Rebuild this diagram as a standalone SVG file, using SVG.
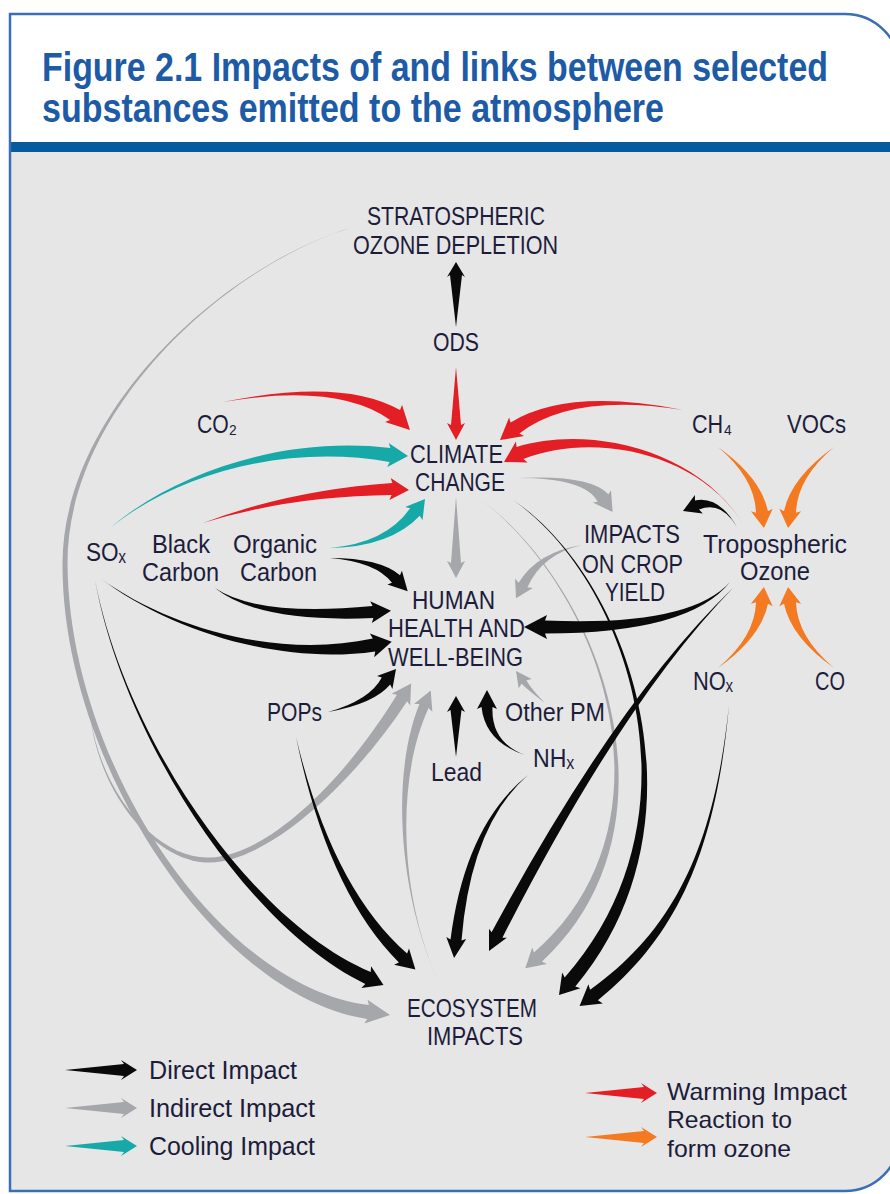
<svg xmlns="http://www.w3.org/2000/svg" width="890" height="1194" viewBox="0 0 890 1194">
<defs>
<style>
.lbl{font-family:"Liberation Sans","DejaVu Sans",Arial,sans-serif;font-size:25px;fill:#1d1d3b}
.leg{font-size:26px}
.leg2{font-size:24px}
.ttl{font-family:"Liberation Sans",Arial,sans-serif;font-size:34px;font-weight:bold;fill:#1d5ba6}
.k{fill:#0a0a0a}.g{fill:#a6a7ab}.r{fill:#e31e24}.c{fill:#17a9a7}.o{fill:#f37a21}
</style>
</defs>
<rect width="890" height="1194" fill="#ffffff"/>
<path d="M10,14 H845 A55,55 0 0 1 900,69 V1136 A55,55 0 0 1 845,1191 H10 Z" fill="#e6e6e6"/>
<path d="M10,14 H845 A55,55 0 0 1 900,69 V142 H10 Z" fill="#ffffff"/>
<rect x="10" y="142" width="885" height="10" fill="#065a9e"/>
<path d="M10,14 H845 A55,55 0 0 1 900,69 V1136 A55,55 0 0 1 845,1191 H10 Z" fill="none" stroke="#3a6fb5" stroke-width="2.5"/>

<g id="title">
<text class="ttl" transform="matrix(1 0 0 1.18 42 81)" textLength="786" lengthAdjust="spacingAndGlyphs">Figure 2.1 Impacts of and links between selected</text>
<text class="ttl" transform="matrix(1 0 0 1.18 42 122)" textLength="622" lengthAdjust="spacingAndGlyphs">substances emitted to the atmosphere</text>
</g>

<g id="connectors">
<!-- grey / indirect -->
<path class="g" d="M350,228 C220,268 63,413 62.5,563 C61.5,763 217.3,997 367.1,1018.9 L364.4,1023.6 L390,1015 L367.6,999.8 L368.9,1005.1 C218.7,987 68.5,763 67.5,563 C67,413 220.3,269 350,228 Z"/>
<path class="g" d="M90,715 C100,800 160,864 210,862.5 C270,861 353.8,782.4 407.1,701.2 L410.2,705.6 L411.1,683.6 L391.6,693.8 L396.9,694.8 C346.2,777.6 270,855 210,857.5 C160,860 102,798 90,715 Z"/>
<path class="g" d="M440,985 C400,900 394.8,781.2 428.6,708 L432.4,711.8 L430.7,690.4 L414,703.9 L419.4,704 C389.3,778.8 400,900 440,985 Z"/>
<path class="g" d="M545,703 Q531.2,689.1 526.4,680.2 L531.7,678.9 L516,671 L518.7,688.3 L521.6,683.8 Q528.8,690.9 545,703 Z"/>
<path class="g" d="M456,497 L461,563 L465,561 L456,578 L447,561 L451,563 Z"/>
<path class="g" d="M517,478 Q585.3,477.8 597.6,501.7 L592.8,502.5 L612.6,512 L611,490.2 L608.4,494.3 Q590.7,474.2 517,478 Z"/>
<path class="g" d="M582,545 Q537.8,551.8 518.6,582.7 L515.1,578.5 L516,598.2 L532.8,587.9 L527.4,587.3 Q542.2,554.2 582,545 Z"/>
<path class="g" d="M482,500 C609.3,601 677.7,827.4 534,952.5 L532.2,947.5 L525.3,968.3 L546.8,963.9 L542,961.5 C682.3,832.6 610.7,599.1 482,500 Z"/>
<!-- black / direct -->
<path class="k" d="M456,327 L462,275 L465,277 L456,262 L447,277 L450,275 Z"/>
<path class="k" d="M737,527 Q719,495.7 695,500.4 L694.9,495 L683,511 L702.8,513.4 L699,509.6 Q721,500.3 737,527 Z"/>
<path class="k" d="M730,582 Q690,626.8 545,620.5 L547,615 L524,627 L547,639 L545,633.5 Q690,633.3 730,582 Z"/>
<path class="k" d="M733,588 Q617.3,698.7 491.6,932.3 L489,928.7 L489,951 L506.8,937.7 L502.4,937.7 Q622.7,701.3 733,588 Z"/>
<path class="k" d="M513,500 C629.2,581.2 707,817.4 564.7,977.4 L562.2,972.6 L559,995 L580.4,988.3 L575.3,986.6 C713,822.6 630.8,578.8 513,500 Z"/>
<path class="k" d="M729,705 C715,839.9 677.9,927.2 590.1,989.8 L588.4,984.2 L579.6,1005.9 L602.8,1003.4 L597.9,1000.2 C682.1,932.8 717,840.1 729,705 Z"/>
<path class="k" d="M528,775 Q465.3,824.7 450.5,939.4 L446.3,937 L454.1,957.9 L466.2,939.1 L461.5,940.6 Q470.7,825.3 528,775 Z"/>
<path class="k" d="M525,755 Q490.8,742 492.5,707 L497,709 L487,690 L477,709 L481.5,707 Q485.3,742 525,755 Z"/>
<path class="k" d="M456,757 L461.5,710 L465,712 L456,696 L447,712 L450.5,710 Z"/>
<path class="k" d="M328,712 Q374.1,703.8 390.2,684.5 L392.4,688.9 L396,669 L377,676.1 L381.8,677.5 Q369.9,700.2 328,712 Z"/>
<path class="k" d="M296,737 Q328,892.2 398.9,962.4 L394.1,964.7 L415.4,969.6 L409,948.6 L407.1,953.6 Q332,887.8 296,737 Z"/>
<path class="k" d="M95,580 C124,740.2 248.6,928.2 365.3,983.9 L361.3,988.1 L383.5,985 L371.1,966.2 L370.7,972.1 C251.4,921.8 126,739.8 95,580 Z"/>
<path class="k" d="M100,578 C169.4,630.8 280.6,665.4 375.2,651.4 L374.2,657.2 L391.7,641.8 L369.9,633.6 L372.8,638.6 C279.4,658.6 170.6,629.2 100,578 Z"/>
<path class="k" d="M215,588 Q258.2,623 373.4,618 L371.8,623.1 L391,610.8 L370.2,601.2 L372.6,606 Q257.8,617 215,588 Z"/>
<path class="k" d="M330,558 Q376,561.9 392,582.8 L387.4,584.4 L407.7,591.3 L401.9,570.7 L400,575.2 Q380,558.1 330,558 Z"/>
<!-- red / warming -->
<path class="r" d="M223,402 Q337.5,382.5 390.1,420 L385.1,422.1 L410,430 L402.1,405.1 L400,410.1 Q342.5,377.5 223,402 Z"/>
<path class="r" d="M456,367 L461,425 L465,423 L456,440 L447,423 L451,425 Z"/>
<path class="r" d="M683,410 Q567.8,387.3 510.6,422.5 L509.1,417.4 L500,440 L524.1,436.1 L519.4,433.5 Q572.2,392.7 683,410 Z"/>
<path class="r" d="M745,527 C699.3,448.7 588,424.5 516.6,446.9 L515.9,441.6 L504,462 L527.6,462.5 L523.4,459.1 C592,431.5 700.7,451.3 745,527 Z"/>
<path class="r" d="M203,523 Q289.8,496 391.6,495 L389.4,499.9 L409,490 L390.7,477.9 L392.4,483 Q290.2,490 203,523 Z"/>
<!-- cyan / cooling -->
<path class="c" d="M110,528 C179.9,471.5 289.8,444 389.6,462 L387.3,466.9 L408,456 L388.7,442.9 L390.4,448 C290.2,436 180.1,468.5 110,528 Z"/>
<path class="c" d="M330,548 Q390.4,546.8 419.8,515.7 L422.5,520.3 L425,499 L405.1,506.9 L410.2,508.3 Q385.6,543.2 330,548 Z"/>
<!-- orange / reaction to form ozone -->
<path class="o" d="M718,447 Q755,478.4 756,512.7 L750.9,511.3 L763.9,527.9 L772.7,508.7 L768,511.3 Q761,477.6 718,447 Z"/>
<path class="o" d="M834,447 Q797,478.4 796,512.7 L801.1,511.3 L788.1,527.9 L779.3,508.7 L784,511.3 Q791,477.6 834,447 Z"/>
<path class="o" d="M718,668 Q755,636.6 756,602.3 L750.9,603.7 L763.9,587.1 L772.7,606.3 L768,603.7 Q761,637.4 718,668 Z"/>
<path class="o" d="M834,668 Q797,636.6 796,602.3 L801.1,603.7 L788.1,587.1 L779.3,606.3 L784,603.7 Q791,637.4 834,668 Z"/>
</g>

<g id="node-strat">
<text class="lbl" x="367" y="225" textLength="178" lengthAdjust="spacingAndGlyphs">STRATOSPHERIC</text>
<text class="lbl" x="353" y="254" textLength="205" lengthAdjust="spacingAndGlyphs">OZONE DEPLETION</text>
</g>
<g id="node-ods"><text class="lbl" x="433" y="351" textLength="46" lengthAdjust="spacingAndGlyphs">ODS</text></g>
<g id="node-co2"><text class="lbl" x="197" y="433" textLength="40" lengthAdjust="spacingAndGlyphs">CO₂</text></g>
<g id="node-climate">
<text class="lbl" x="410" y="463" textLength="93" lengthAdjust="spacingAndGlyphs">CLIMATE</text>
<text class="lbl" x="415" y="491" textLength="90" lengthAdjust="spacingAndGlyphs">CHANGE</text>
</g>
<g id="node-ch4"><text class="lbl" x="692" y="433" textLength="40" lengthAdjust="spacingAndGlyphs">CH₄</text></g>
<g id="node-vocs"><text class="lbl" x="787" y="433" textLength="59" lengthAdjust="spacingAndGlyphs">VOCs</text></g>
<g id="node-sox"><text class="lbl" x="86" y="561" textLength="40" lengthAdjust="spacingAndGlyphs">SOₓ</text></g>
<g id="node-bc">
<text class="lbl" x="152" y="553" textLength="58" lengthAdjust="spacingAndGlyphs">Black</text>
<text class="lbl" x="142" y="581" textLength="77" lengthAdjust="spacingAndGlyphs">Carbon</text>
</g>
<g id="node-oc">
<text class="lbl" x="233" y="553" textLength="84" lengthAdjust="spacingAndGlyphs">Organic</text>
<text class="lbl" x="240" y="581" textLength="77" lengthAdjust="spacingAndGlyphs">Carbon</text>
</g>
<g id="node-crop">
<text class="lbl" x="584" y="543" textLength="96" lengthAdjust="spacingAndGlyphs">IMPACTS</text>
<text class="lbl" x="582" y="573" textLength="101" lengthAdjust="spacingAndGlyphs">ON CROP</text>
<text class="lbl" x="605" y="601" textLength="60" lengthAdjust="spacingAndGlyphs">YIELD</text>
</g>
<g id="node-tropo3">
<text class="lbl" x="703" y="553" textLength="144" lengthAdjust="spacingAndGlyphs">Tropospheric</text>
<text class="lbl" x="740" y="580" textLength="70" lengthAdjust="spacingAndGlyphs">Ozone</text>
</g>
<g id="node-health">
<text class="lbl" x="412" y="609" textLength="83" lengthAdjust="spacingAndGlyphs">HUMAN</text>
<text class="lbl" x="388" y="637" textLength="137" lengthAdjust="spacingAndGlyphs">HEALTH AND</text>
<text class="lbl" x="388" y="666" textLength="135" lengthAdjust="spacingAndGlyphs">WELL-BEING</text>
</g>
<g id="node-nox"><text class="lbl" x="693" y="690" textLength="40" lengthAdjust="spacingAndGlyphs">NOₓ</text></g>
<g id="node-co"><text class="lbl" x="815" y="690" textLength="30" lengthAdjust="spacingAndGlyphs">CO</text></g>
<g id="node-pops"><text class="lbl" x="267" y="721" textLength="55" lengthAdjust="spacingAndGlyphs">POPs</text></g>
<g id="node-otherpm"><text class="lbl" x="505" y="721" textLength="100" lengthAdjust="spacingAndGlyphs">Other PM</text></g>
<g id="node-lead"><text class="lbl" x="431" y="781" textLength="51" lengthAdjust="spacingAndGlyphs">Lead</text></g>
<g id="node-nhx"><text class="lbl" x="533" y="767" textLength="41" lengthAdjust="spacingAndGlyphs">NHₓ</text></g>
<g id="node-eco">
<text class="lbl" x="407" y="1017" textLength="130" lengthAdjust="spacingAndGlyphs">ECOSYSTEM</text>
<text class="lbl" x="427" y="1045" textLength="96" lengthAdjust="spacingAndGlyphs">IMPACTS</text>
</g>

<g id="legend">
<path class="k" d="M65,1070 L124,1064 L121,1060 L137,1070 L121,1080 L124,1076 Z"/>
<path class="g" d="M65,1108 L124,1102 L121,1098 L137,1108 L121,1118 L124,1114 Z"/>
<path class="c" d="M65,1146 L124,1140 L121,1136 L137,1146 L121,1156 L124,1152 Z"/>
<path class="r" d="M585,1093 L644,1087 L641,1083 L657,1093 L641,1103 L644,1099 Z"/>
<path class="o" d="M585,1137 L644,1131 L641,1127 L657,1137 L641,1147 L644,1143 Z"/>
<text class="lbl leg" x="149" y="1079" textLength="148" lengthAdjust="spacingAndGlyphs">Direct Impact</text>
<text class="lbl leg" x="149" y="1117" textLength="166" lengthAdjust="spacingAndGlyphs">Indirect Impact</text>
<text class="lbl leg" x="149" y="1155" textLength="166" lengthAdjust="spacingAndGlyphs">Cooling Impact</text>
<text class="lbl leg2" x="667" y="1100" textLength="180" lengthAdjust="spacingAndGlyphs">Warming Impact</text>
<text class="lbl leg2" x="667" y="1128" textLength="125" lengthAdjust="spacingAndGlyphs">Reaction to</text>
<text class="lbl leg2" x="667" y="1157" textLength="124" lengthAdjust="spacingAndGlyphs">form ozone</text>
</g>
</svg>
